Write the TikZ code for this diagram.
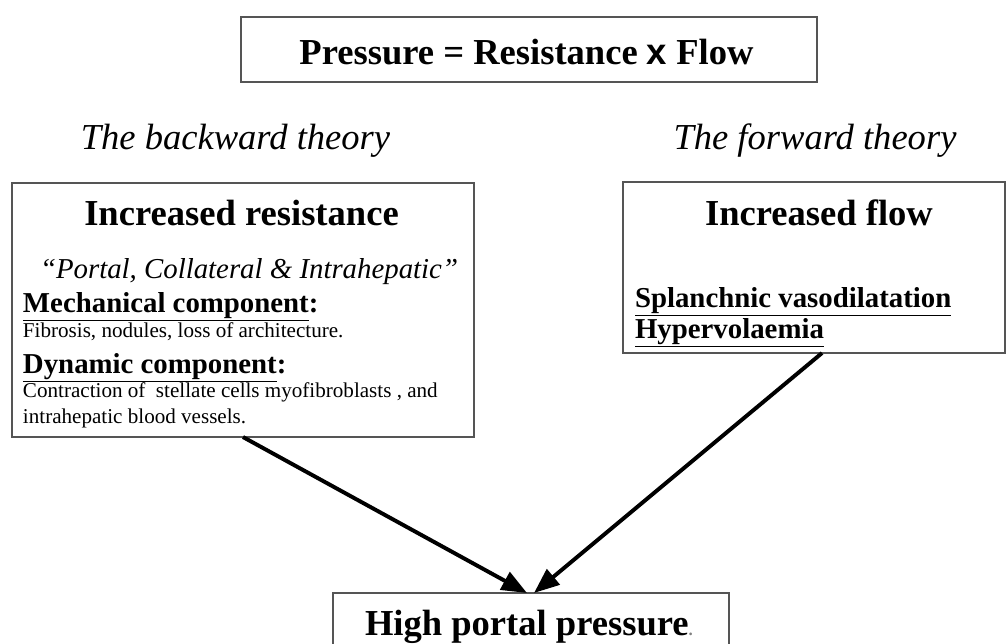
\documentclass[tikz,border=0pt]{standalone}
\usepackage{fontspec}
\setmainfont{Liberation Serif}
\newfontfamily\xsans{Liberation Sans}
\usepackage{tikz}
\usetikzlibrary{
arrows.meta,
positioning,
calc
}
\definecolor{edge}{HTML}{555555}

\begin{document}
\begin{tikzpicture}[
x=0.025cm, y=-0.025cm,
box/.style={
rectangle,
draw=edge,
line width=0.9pt,
inner sep=0pt,
outer sep=0pt
},
txt/.style={inner sep=0pt, outer sep=0pt},
head/.style={txt, font=\fontsize{26}{30}\selectfont\bfseries},
theory/.style={txt, font=\fontsize{26}{30}\selectfont\itshape},
sub/.style={txt, font=\fontsize{20.5}{24}\selectfont\bfseries},
small/.style={txt, font=\fontsize{15}{18}\selectfont},
arrow/.style={-{Triangle[length=18pt,width=14pt]}, line width=2.8pt}
]
\useasboundingbox (0,0) rectangle (1008,644);

% boxes
\node[box, minimum width=14.4cm, minimum height=1.625cm] (law) at (529,49.5) {};
\node[box, minimum width=11.55cm, minimum height=6.35cm] (resist) at (243,310) {};
\node[box, minimum width=9.55cm, minimum height=4.275cm] (flow) at (814,267.5) {};
\node[box, minimum width=9.9cm, minimum height=2.85cm] (high) at (531,650) {};

% title
\node[head, anchor=base] (lawtxt) at (526.5,65)
{Pressure = Resistance {\xsans x} Flow};

% theories
\node[theory, anchor=base] (back) at (235.5,150) {The backward theory};
\node[theory, anchor=base] (fwd) at (815,150) {The forward theory};

% left box
\node[head, anchor=base] (resisttxt) at (241.5,225) {Increased resistance};
\node[txt, anchor=base west, font=\fontsize{20.5}{24}\selectfont\itshape]
(sites) at (40,278) {``Portal, Collateral \& Intrahepatic''};
\node[sub, anchor=base west] (mech) at (23,312)
{\underline{Mechanical component}:};
\node[small, anchor=base west] (mechtxt) at (23,337)
{Fibrosis, nodules, loss of architecture.};
\node[sub, anchor=base west] (dyn) at (23,373)
{\underline{Dynamic component}:};
\node[small, anchor=base west] (dyntxt) at (23,397)
{Contraction of \ stellate cells myofibroblasts , and};
\node[small, anchor=base west] (dyntxt2) at (23,423)
{intrahepatic blood vessels.};

% right box
\node[head, anchor=base] (flowtxt) at (819,225) {Increased flow};
\node[sub, anchor=base west] (splanch) at (635,307)
{\underline{Splanchnic vasodilatation}};
\node[sub, anchor=base west] (hyper) at (635,338)
{\underline{Hypervolaemia}};

% bottom
\node[head, anchor=base west] (hightxt) at (365,635)
{High portal pressure{\color{gray}\fontsize{12}{14}\selectfont.}};

\draw[arrow] (resist.south) -- ($(high.north)+(-4,0)$);
\draw[arrow] ($(flow.south)+(8,0)$) -- ($(high.north)+(3,0)$);

\end{tikzpicture}
\end{document}
